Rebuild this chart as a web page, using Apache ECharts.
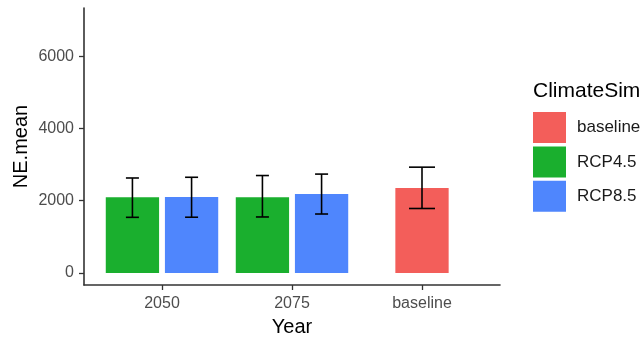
<!DOCTYPE html>
<html>
<head>
<meta charset="utf-8">
<script src="https://cdn.jsdelivr.net/npm/echarts@6/dist/echarts.min.js"></script>
<style>
  html, body { margin: 0; padding: 0; background: #fff; }
  #chart { width: 644px; height: 339px; }
</style>
</head>
<body>
<div id="chart"></div>
<script>
// Year groups on the x axis
const categories = ['2050', '2075', 'baseline'];
// Climate simulations (legend order)
const simNames = ['baseline', 'RCP4.5', 'RCP8.5'];
const simColors = ['#F35E5A', '#1AAF2E', '#4F86FD'];

// NE.mean per year group, one array per simulation (null = not present)
const baselineMean = [null, null, 2355];
const rcp45Mean = [2095, 2095, null];
const rcp85Mean = [2100, 2185, null];

// Error bar limits
const baselineLow = [null, null, 1785];
const baselineHigh = [null, null, 2930];
const rcp45Low = [1540, 1550, null];
const rcp45High = [2630, 2698, null];
const rcp85Low = [1543, 1632, null];
const rcp85High = [2650, 2738, null];

// Y axis ticks
const yTicks = [0, 2000, 4000, 6000];

const means = [baselineMean, rcp45Mean, rcp85Mean];
const lows = [baselineLow, rcp45Low, rcp85Low];
const highs = [baselineHigh, rcp45High, rcp85High];

const FONT = 'Liberation Sans, Arial, sans-serif';
const BAR_W = 0.41;      // bar width in category units
const DODGE = 0.455;     // spacing between dodged bars
const CAP_SINGLE = 0.2;  // error bar cap width when alone

// Dodge placement: slot of each simulation within its year group
function dodgeInfo(simIdx, catIdx) {
  const present = [];
  for (let s = 0; s < simNames.length; s++) {
    if (means[s][catIdx] != null) present.push(s);
  }
  const n = present.length;
  const k = present.indexOf(simIdx);
  return { offset: (k - (n - 1) / 2) * DODGE, n: n };
}

function makeSeries(simIdx) {
  const data = [];
  categories.forEach((c, i) => {
    if (means[simIdx][i] != null) {
      data.push([i + 1, means[simIdx][i], lows[simIdx][i], highs[simIdx][i], i]);
    }
  });
  return {
    type: 'custom',
    name: simNames[simIdx],
    itemStyle: { color: simColors[simIdx] },
    data: data,
    encode: { x: 0, y: [1, 2, 3] },
    renderItem: function (params, api) {
      const x = api.value(0);
      const mean = api.value(1);
      const lo = api.value(2);
      const hi = api.value(3);
      const cat = api.value(4);
      const d = dodgeInfo(simIdx, cat);
      const cx = x + d.offset;
      const p0 = api.coord([cx, 0]);
      const p1 = api.coord([cx, mean]);
      const bw = api.size([BAR_W, 0])[0];
      const capW = api.size([CAP_SINGLE / d.n, 0])[0];
      const pLo = api.coord([cx, lo]);
      const pHi = api.coord([cx, hi]);
      const errStyle = { stroke: '#000', lineWidth: 1.6, fill: null };
      return {
        type: 'group',
        children: [
          {
            type: 'rect',
            shape: { x: p0[0] - bw / 2, y: p1[1], width: bw, height: p0[1] - p1[1] },
            style: { fill: simColors[simIdx] }
          },
          {
            type: 'line',
            shape: { x1: pLo[0], y1: pLo[1], x2: pHi[0], y2: pHi[1] },
            style: errStyle
          },
          {
            type: 'line',
            shape: { x1: pHi[0] - capW / 2, y1: pHi[1], x2: pHi[0] + capW / 2, y2: pHi[1] },
            style: errStyle
          },
          {
            type: 'line',
            shape: { x1: pLo[0] - capW / 2, y1: pLo[1], x2: pLo[0] + capW / 2, y2: pLo[1] },
            style: errStyle
          }
        ]
      };
    }
  };
}

const chart = echarts.init(document.getElementById('chart'), null, { renderer: 'canvas' });

chart.setOption({
  animation: false,
  backgroundColor: '#fff',
  title: {
    text: 'ClimateSim',
    left: 533,
    top: 81,
    padding: 0,
    textStyle: { fontFamily: FONT, fontSize: 21, fontWeight: 'normal', color: '#000' }
  },
  legend: {
    orient: 'vertical',
    left: 533,
    top: 112,
    padding: 0,
    itemWidth: 33,
    itemHeight: 31,
    itemGap: 3.4,
    icon: 'rect',
    selectedMode: false,
    data: simNames,
    textStyle: { fontFamily: FONT, fontSize: 17, color: '#1a1a1a', padding: [0, 0, 0, 6] }
  },
  grid: { left: 84, right: 144, top: 8, bottom: 54, outerBoundsMode: 'none', containLabel: false },
  xAxis: {
    type: 'value',
    min: 0.4,
    max: 3.6,
    name: 'Year',
    nameLocation: 'middle',
    nameGap: 32,
    nameMoveOverlap: false,
    nameTextStyle: { fontFamily: FONT, fontSize: 20, color: '#000' },
    splitLine: { show: false },
    axisLine: { show: true, onZero: false, lineStyle: { color: '#333', width: 1.6 } },
    axisTick: { show: true, length: 5, lineStyle: { color: '#333', width: 1.3 }, customValues: [1, 2, 3] },
    axisLabel: {
      customValues: [1, 2, 3],
      formatter: v => categories[Math.round(v) - 1],
      margin: 11,
      fontFamily: FONT, fontSize: 16, color: '#4D4D4D'
    }
  },
  yAxis: {
    type: 'value',
    min: -335,
    max: 7340,
    name: 'NE.mean',
    nameLocation: 'middle',
    nameGap: 53,
    nameMoveOverlap: false,
    nameTextStyle: { fontFamily: FONT, fontSize: 20, color: '#000' },
    splitLine: { show: false },
    axisLine: { show: true, onZero: false, lineStyle: { color: '#333', width: 1.6 } },
    axisTick: { show: true, length: 5, lineStyle: { color: '#333', width: 1.3 }, customValues: yTicks },
    axisLabel: {
      customValues: yTicks,
      formatter: v => String(v),
      margin: 10,
      fontFamily: FONT, fontSize: 16, color: '#4D4D4D'
    }
  },
  series: [makeSeries(0), makeSeries(1), makeSeries(2)]
});
</script>
</body>
</html>
